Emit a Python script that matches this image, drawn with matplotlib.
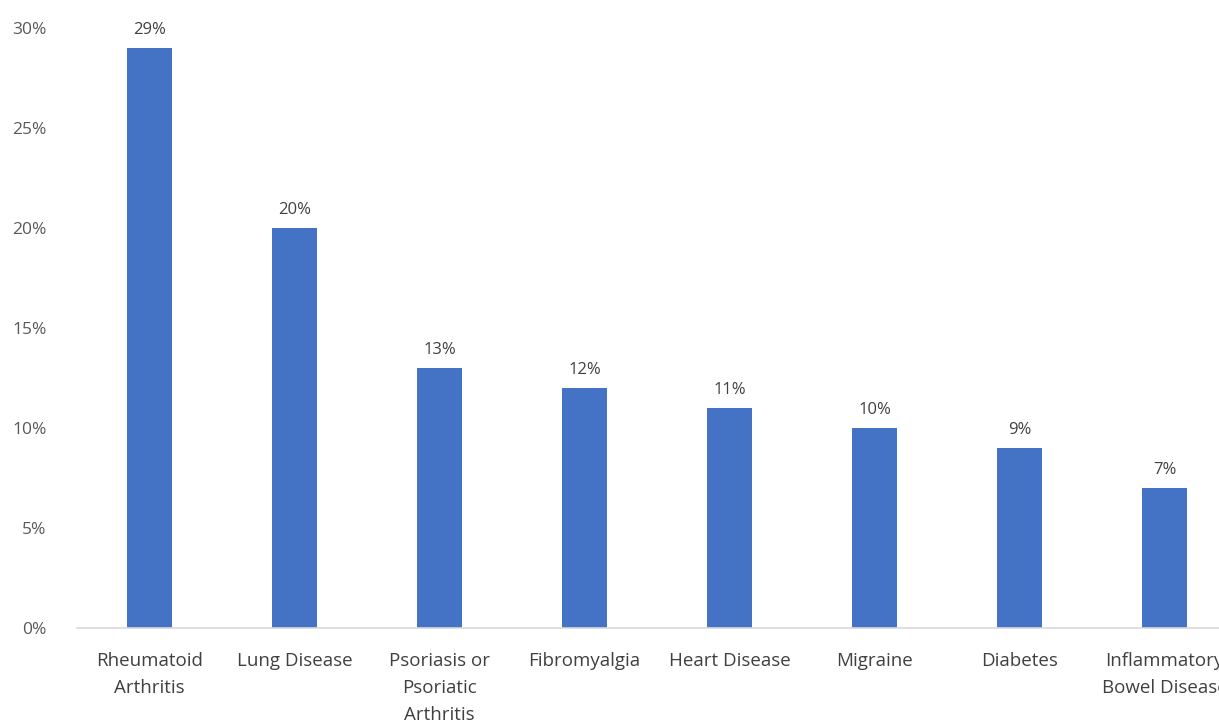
import matplotlib
matplotlib.use('Agg')
import matplotlib.pyplot as plt
from matplotlib.ticker import FuncFormatter

categories = ['Rheumatoid\nArthritis', 'Lung Disease', 'Psoriasis or\nPsoriatic\nArthritis',
              'Fibromyalgia', 'Heart Disease', 'Migraine', 'Diabetes',
              'Inflammatory\nBowel Disease']
values = [29, 20, 13, 12, 11, 10, 9, 7]
yticks = [0, 5, 10, 15, 20, 25, 30]

plt.rcParams['font.family'] = ['Open Sans', 'DejaVu Sans']
W, H = 1219, 721
fig = plt.figure(figsize=(W / 100, H / 100), dpi=100)
# the reference is a crop: right edge and bottom labels run past the picture
ax = fig.add_axes([77 / W, 93 / H, 1160 / W, 600 / H])

x = list(range(len(values)))
bars = ax.bar(x, values, width=0.31, color='#4472C4', zorder=2)
for xi, v in zip(x, values):
    ax.annotate(f'{v}%', (xi, v), xytext=(0, 7), textcoords='offset points',
                ha='center', va='bottom', fontsize=12, color='#404040')

ax.set_xlim(-0.5, len(values) - 0.5)
ax.set_ylim(0, 30)
ax.set_yticks(yticks)
ax.yaxis.set_major_formatter(FuncFormatter(lambda v, p: f'{v:.0f}%'))
ax.set_xticks(x)
ax.set_xticklabels(categories, fontsize=13.5, color='#404040', linespacing=1.65)
ax.tick_params(axis='y', length=0, pad=22, labelsize=12.5, labelcolor='#595959')
ax.tick_params(axis='x', length=0, pad=17)

for s in ['top', 'right', 'left']:
    ax.spines[s].set_visible(False)
ax.spines['bottom'].set_color('#d9d9d9')
ax.spines['bottom'].set_linewidth(1.2)

fig.savefig('out.png', dpi=100)
